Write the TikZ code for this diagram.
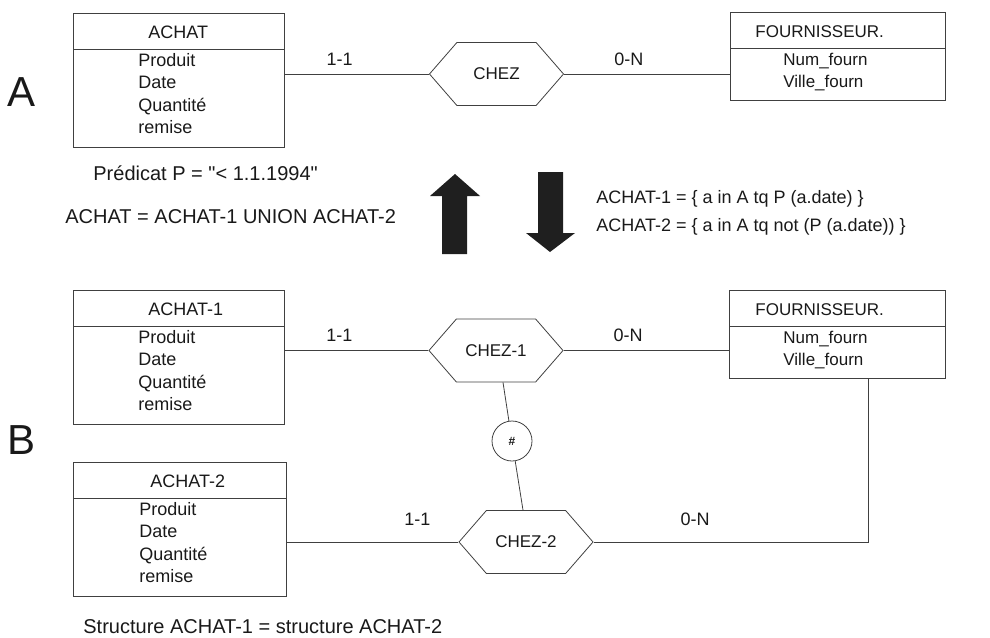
\documentclass[tikz,border=0pt]{standalone}
\usepackage{fontspec}
\setmainfont{Liberation Sans}[Ligatures=TeXOff]
\usetikzlibrary{shapes.multipart,shapes.symbols}

\newcommand{\enttitre}{\rule[-10pt]{0pt}{35pt}}
\newcommand{\debattr}{\rule{0pt}{16.5pt}}
\newcommand{\finattr}{\rule[-13pt]{0pt}{0pt}}
% #1 largeur de la boite, #2 retrait, #3 texte
\newcommand{\titreent}[3]{\makebox[#1][l]{\hspace*{#2}\enttitre #3}}
\newcommand{\corpsent}[3]{\makebox[#1][l]{\hspace*{#2}\parbox[t]{120pt}{\debattr #3\finattr}}}

\tikzset{
	entite/.style={rectangle split, rectangle split parts=2, draw,
		inner xsep=0pt, inner ysep=0pt, anchor=north west},
	relation/.style={signal, signal to=west and east, signal pointer angle=98,
		draw, minimum width=134pt, minimum height=63pt, inner sep=0pt,
		font=\fontsize{17}{21}\selectfont},
	card/.style 2 args={pos=#1, above=#2},
	lettre/.style={font=\fontsize{42}{42}\selectfont},
	texte/.style={anchor=base west, inner sep=0pt, font=\fontsize{20}{24}\selectfont},
	fleche/.style={fill=black!88}
}

\begin{document}
\begin{tikzpicture}[x=1pt, y=-1pt, line width=0.8pt, draw=black!75, text=black!90,
		font=\fontsize{18}{22.5}\selectfont]
	\useasboundingbox (0,0) rectangle (990,637);
	
	% partie A
	\node[lettre] (lettreA) at (22,92) {A};
	\node[entite] (achat) at (73,13) {\titreent{211pt}{75pt}{ACHAT}
		\nodepart{two}\corpsent{211pt}{65pt}{Produit\\Date\\Quantité\\remise}};
	\node[relation] (chez) at (496.5,74) {CHEZ};
	\node[entite, font=\fontsize{17}{22}\selectfont] (fournA) at (730,12) {\titreent{215pt}{25pt}{FOURNISSEUR.}
		\nodepart{two}\corpsent{215pt}{53pt}{Num\_fourn\\Ville\_fourn}};
	\draw (achat.east |- chez.west) -- node[card={.38}{5pt}]{1-1} (chez.west);
	\draw (chez.east) -- node[card={.39}{5pt}]{0-N} (fournA.west |- chez.east);
	
	% textes du milieu
	\node[texte] (predicat) at (93,180) {Prédicat P = "< 1.1.1994"};
	\node[texte] (union) at (65,223) {ACHAT = ACHAT-1 UNION ACHAT-2};
	\node[texte, font=\fontsize{18}{22}\selectfont] (def1) at (596,203) {ACHAT-1 = \{ a in A tq P (a.date) \}};
	\node[texte, font=\fontsize{18}{22}\selectfont] (def2) at (596,231) {ACHAT-2 = \{ a in A tq not (P (a.date)) \}};
	\fill[fleche] (442,254) -- (442,196) -- (430,196) -- (455,174) -- (480,196) -- (467,196) -- (467,254) -- cycle;
	\fill[fleche] (538,172) -- (538,233) -- (526,233) -- (550,252) -- (575,233) -- (563,233) -- (563,172) -- cycle;
	
	% partie B
	\node[lettre] (lettreB) at (22,440) {B};
	\node[entite] (achatA) at (73,290) {\titreent{211pt}{75pt}{ACHAT-1}
		\nodepart{two}\corpsent{211pt}{65pt}{Produit\\Date\\Quantité\\remise}};
	\node[entite] (achatB) at (73,462) {\titreent{213pt}{77pt}{ACHAT-2}
		\nodepart{two}\corpsent{213pt}{66pt}{Produit\\Date\\Quantité\\remise}};
	\node[entite, font=\fontsize{17}{22}\selectfont] (fournB) at (729,290) {\titreent{216pt}{26pt}{FOURNISSEUR.}
		\nodepart{two}\corpsent{216pt}{54pt}{Num\_fourn\\Ville\_fourn}};
	\node[relation] (chezA) at (496,350.5) {CHEZ-1};
	\node[relation] (chezB) at (526,542) {CHEZ-2};
	\node[circle, draw, minimum size=40pt, inner sep=0pt, font=\fontsize{12}{12}\selectfont\bfseries] (diese) at (512,441) {\#};
	\coordinate (coin) at (868,542);
	
	\draw (achatA.east |- chezA.west) -- node[card={.38}{5pt}]{1-1} (chezA.west);
	\draw (chezA.east) -- node[card={.39}{5pt}]{0-N} (fournB.west |- chezA.east);
	\draw (achatB.east |- chezB.west) -- node[card={.76}{13pt}]{1-1} (chezB.west);
	\draw (chezB.east) -- node[card={.37}{13pt}]{0-N} (coin) -- (coin |- fournB.south);
	\draw ([xshift=7pt]chezA.south) -- (diese);
	\draw (diese) -- ([xshift=-3pt]chezB.north);
	
	\node[texte] (structure) at (83,633) {Structure ACHAT-1 = structure ACHAT-2};
\end{tikzpicture}
\end{document}
